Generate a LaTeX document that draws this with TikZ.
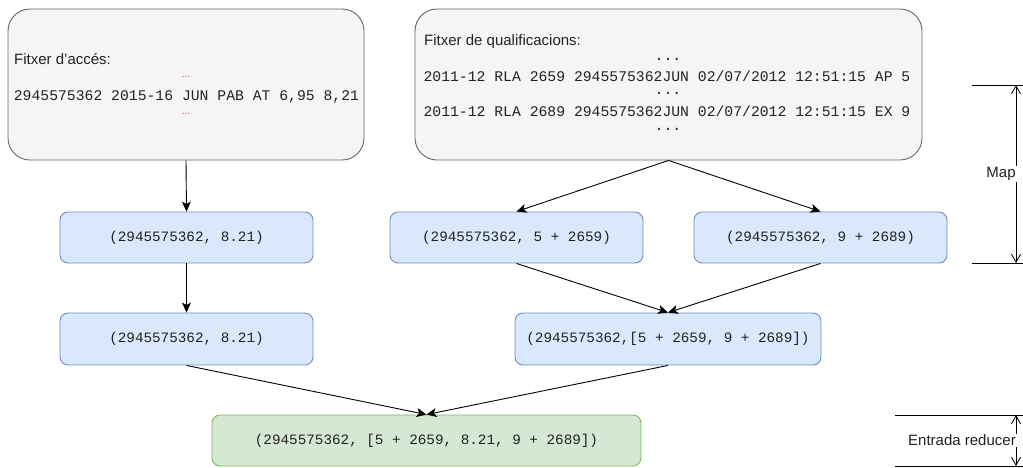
\documentclass[tikz,border=0pt]{standalone}
\usepackage{fontspec}
\setmainfont{Liberation Sans}
\newfontfamily\cmono{Liberation Mono}
\usetikzlibrary{arrows.meta}
\definecolor{filegray}{HTML}{F5F5F5}
\definecolor{filestroke}{HTML}{666666}
\definecolor{mapfill}{HTML}{DAE8FC}
\definecolor{mapstroke}{HTML}{6C8EBF}
\definecolor{redfill}{HTML}{D5E8D4}
\definecolor{redstroke}{HTML}{82B366}
\definecolor{dotred}{HTML}{B5523B}
\definecolor{ink}{HTML}{222222}
\tikzset{
  x=1pt, y=-1pt,
  filebox/.style={draw=filestroke, fill=filegray, line width=0.9pt, rounded corners=22pt, inner sep=0pt},
  pairbox/.style={draw=mapstroke, fill=mapfill, line width=0.9pt, rounded corners=8pt,
    minimum height=51pt, inner sep=0pt, font=\cmono\fontsize{14.3}{17}\selectfont, text=ink},
  redbox/.style={pairbox, draw=redstroke, fill=redfill},
  flow/.style={draw=black, line width=0.9pt, -{Stealth[length=10pt,width=9pt,inset=2.5pt]}},
  dimline/.style={draw=black, line width=0.9pt},
  dimarrow/.style={draw=black, line width=0.8pt, {Straight Barb[length=8pt,width=9pt]}-{Straight Barb[length=8pt,width=9pt]}},
  ftitle/.style={anchor=west, inner sep=0pt, font=\fontsize{15}{18}\selectfont, text=ink},
  fline/.style={inner sep=0pt, font=\cmono\fontsize{14.75}{17}\selectfont, text=ink},
  fdots/.style={inner sep=0pt, font=\fontsize{10}{12}\selectfont, text=dotred},
  dimlabel/.style={fill=white, inner sep=1pt, font=\fontsize{15}{18}\selectfont, text=ink}
}
\begin{document}
\begin{tikzpicture}
\useasboundingbox (0,0) rectangle (1023,467);

% input files
\node[filebox, minimum width=356pt, minimum height=151pt] (acc) at (186,84.5) {};
\node[filebox, minimum width=507pt, minimum height=151pt] (qual) at (668.5,84.5) {};

\node[ftitle] (acct) at (14,59) {Fitxer d\char"27 accés:};
\node[fdots] (accd1) at (186,77) {...};
\node[fline] (accl) at (186.5,97) {2945575362 2015-16 JUN PAB AT 6,95 8,21};
\node[fdots] (accd2) at (186,114) {...};

\node[ftitle] (qualt) at (424,42) {Fitxer de qualificacions:};
\node[fline] (quald1) at (668,59) {...};
\node[fline] (quall1) at (667,76) {2011-12 RLA 2659 2945575362JUN 02/07/2012 12:51:15 AP 5};
\node[fline] (quald2) at (668,93) {...};
\node[fline] (quall2) at (667,111) {2011-12 RLA 2689 2945575362JUN 02/07/2012 12:51:15 EX 9};
\node[fline] (quald3) at (668,129) {...};

% map output
\node[pairbox, minimum width=253pt] (a) at (186.5,237.5) {(2945575362, 8.21)};
\node[pairbox, minimum width=253pt] (b) at (516.5,237.5) {(2945575362, 5 + 2659)};
\node[pairbox, minimum width=253pt] (c) at (820.5,237.5) {(2945575362, 9 + 2689)};

% grouped pairs
\node[pairbox, minimum width=253pt, minimum height=52pt] (d) at (186.5,339) {(2945575362, 8.21)};
\node[pairbox, minimum width=306pt, minimum height=52pt] (e) at (668,339) {(2945575362,[5 + 2659, 9 + 2689])};

% reducer input
\node[redbox, minimum width=429pt] (f) at (426.5,440.5) {(2945575362, [5 + 2659, 8.21, 9 + 2689])};

% connectors
\draw[flow] (acc.south) -- (a.north);
\draw[flow] (qual.south) -- (b.north);
\draw[flow] (qual.south) -- (c.north);
\draw[flow] (a.south) -- (d.north);
\draw[flow] (b.south) -- (e.north);
\draw[flow] (c.south) -- (e.north);
\draw[flow] (d.south) -- (f.north);
\draw[flow] (e.south) -- (f.north);

% phase markers
\coordinate (m1a) at (972,85);  \coordinate (m1b) at (1023,85);
\coordinate (m2a) at (972,263); \coordinate (m2b) at (1023,263);
\coordinate (mt) at (1016,85);  \coordinate (mb) at (1016,263);
\draw[dimline] (m1a) -- (m1b);
\draw[dimline] (m2a) -- (m2b);
\draw[dimarrow] (mt) -- (mb);
\node[dimlabel] (map) at (1001,174) {Map};

\coordinate (r1a) at (895,415); \coordinate (r1b) at (1023,415);
\coordinate (r2a) at (895,466); \coordinate (r2b) at (1023,466);
\coordinate (rt) at (1016,415); \coordinate (rb) at (1016,466);
\draw[dimline] (r1a) -- (r1b);
\draw[dimline] (r2a) -- (r2b);
\draw[dimarrow] (rt) -- (rb);
\node[dimlabel] (red) at (962,440) {Entrada reducer};
\end{tikzpicture}
\end{document}
